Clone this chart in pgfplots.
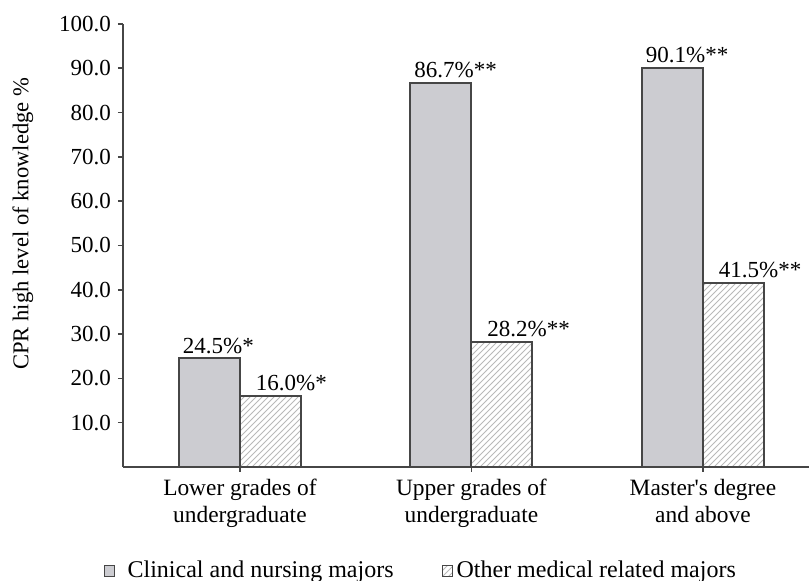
\documentclass[border=0pt]{standalone}
\usepackage{pgfplots}
\pgfplotsset{compat=1.18}
\usepackage{fontspec}
\setmainfont{Liberation Serif}
\usetikzlibrary{patterns}
\definecolor{barfill}{RGB}{204,204,209}
\definecolor{edge}{RGB}{70,70,70}
\begin{document}
\begin{tikzpicture}
\useasboundingbox (-61.5pt,-57pt) rectangle (343pt,233.5pt);
\begin{axis}[
  scale only axis, width=343pt, height=221.5pt,
  xmin=-0.505, xmax=2.458, ymin=0, ymax=100,
  axis x line*=bottom, axis y line*=left,
  axis line style={draw=edge, line width=1pt},
  ytick={10,20,30,40,50,60,70,80,90,100},
  /pgf/number format/assume math mode=true,
  yticklabel style={/pgf/number format/fixed, /pgf/number format/fixed zerofill, /pgf/number format/precision=1, font=\fontsize{11.5}{13}\selectfont},
  xtick={0,1,2},
  xticklabels={{Lower grades of\\undergraduate},{Upper grades of\\undergraduate},{Master\textquotesingle s degree\\and above}},
  xticklabel style={align=center, font=\fontsize{11.7}{13.5}\selectfont},
  tick align=outside, major tick length=2.5pt,
  tick style={draw=edge, line width=0.8pt},
  ybar=0pt, bar width=30.5pt,
  ylabel={CPR high level of knowledge \%},
  ylabel style={at={(axis description cs:-0.1458,0.549)}, anchor=center, font=\fontsize{11.3}{13}\selectfont},
  point meta=explicit symbolic,
  nodes near coords={\pgfplotspointmeta},
  every node near coord/.append style={font=\fontsize{11.5}{13}\selectfont, inner xsep=1pt, inner ysep=2pt, anchor=south west},
  legend style={at={(axis description cs:0.434,-0.235)}, anchor=center, draw=none, fill=none,
    legend columns=2, font=\fontsize{12}{14}\selectfont,
    nodes={inner xsep=1pt},
    /tikz/every even column/.append style={column sep=23pt}},
]
\addplot[fill=barfill, draw=edge, line width=1pt, bar shift=-15.25pt,
  every node near coord/.append style={xshift=-14.75pt},
  legend image code/.code={\draw[fill=barfill, draw=edge, line width=0.6pt] (0pt,-2.6pt) rectangle (5.2pt,2.6pt); \path (10.2pt,0pt);}]
  coordinates {(0,24.5) [24.5\%*] (1,86.7) [86.7\%**] (2,90.1) [90.1\%**]};
\addlegendentry{Clinical and nursing majors}
\addplot[pattern=north east lines, pattern color=gray!55, draw=edge, line width=1pt, bar shift=15.25pt,
  every node near coord/.append style={xshift=-8.75pt},
  legend image code/.code={\draw[pattern=north east lines, pattern color=gray!55, draw=edge, line width=0.6pt] (0pt,-2.6pt) rectangle (5.2pt,2.6pt); \path (5.7pt,0pt);}]
  coordinates {(0,16.0) [16.0\%*] (1,28.2) [28.2\%**] (2,41.5) [41.5\%**]};
\addlegendentry{Other medical related majors}
\end{axis}
\end{tikzpicture}
\end{document}
